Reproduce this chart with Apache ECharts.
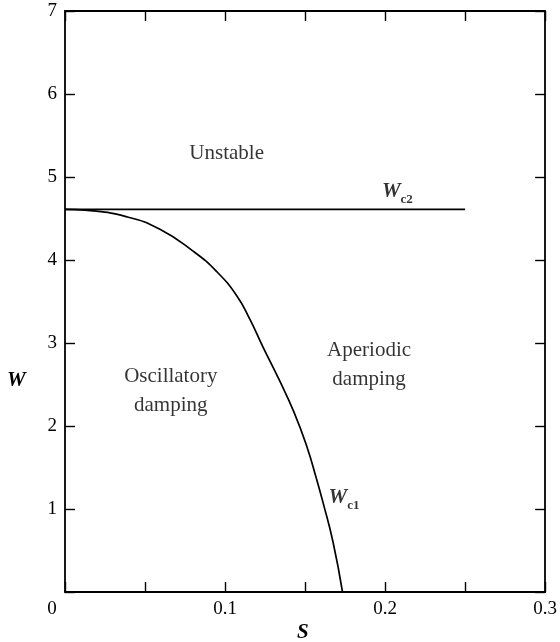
<!DOCTYPE html>
<html>
<head>
<meta charset="utf-8">
<script src="https://cdn.jsdelivr.net/npm/echarts@6/dist/echarts.min.js"></script>
<style>html,body{margin:0;padding:0;background:#fff;}#c{width:560px;height:642px;}</style>
</head>
<body>
<div id="c"></div>
<script>
// Wc2: upper critical value (horizontal)
const wc2S = [0, 0.25];
const wc2W = [4.61, 4.61];
// Wc1: lower boundary curve
const wc1S = [0, 0.0125, 0.0387, 0.0593, 0.0798, 0.0948, 0.1073, 0.1154, 0.1235, 0.1335, 0.1430, 0.1510, 0.1572, 0.1612, 0.1675, 0.1734];
const wc1W = [4.61, 4.60, 4.52, 4.37, 4.11, 3.86, 3.57, 3.29, 2.96, 2.57, 2.17, 1.76, 1.36, 1.08, 0.60, 0.0];
// Region / curve annotations
const annText = ['Unstable', 'Oscillatory\ndamping', 'Aperiodic\ndamping', '{w|W}{s|c2}', '{w|W}{s|c1}'];
const annS = [0.101, 0.0661, 0.190, 0.198, 0.1647];
const annW = [5.28, 2.42, 2.73, 4.83, 1.14];
const annAlign = ['center', 'center', 'center', 'left', 'left'];
const xTickLabels = ['0', '0.1', '0.2', '0.3'];

const serif = 'Liberation Serif';
const chart = echarts.init(document.getElementById('c'));
function axisCommon() {
  return {
    axisLine: {show: true, onZero: false, lineStyle: {color: '#000', width: 1.8}},
    axisTick: {show: true, inside: true, length: 10, lineStyle: {color: '#000', width: 1.4}},
    splitLine: {show: false}
  };
}
const rich = {
  w: {fontFamily: serif, fontStyle: 'italic', fontWeight: 'bold', fontSize: 21, lineHeight: 30, color: '#000'},
  s: {fontFamily: serif, fontWeight: 'bold', fontSize: 13, lineHeight: 14, verticalAlign: 'bottom', color: '#000'}
};
chart.setOption({
  animation: false,
  backgroundColor: '#fff',
  grid: {left: 65, right: 14, top: 11, bottom: 50},
  xAxis: [
    Object.assign(axisCommon(), {
      type: 'value', min: 0, max: 0.3, interval: 0.05, position: 'bottom',
      axisLabel: {
        color: '#000', fontFamily: serif, fontSize: 19, margin: 8,
        formatter: function (v) {
          const k = Math.round(v * 100);
          if (k % 10 !== 0) return '';
          const t = xTickLabels[k / 10];
          return k === 0 ? '{z|' + t + '}' : t;
        },
        rich: {z: {fontFamily: serif, fontSize: 19, color: '#000', padding: [0, 26, 0, 0]}}
      }
    }),
    Object.assign(axisCommon(), {
      type: 'value', min: 0, max: 0.3, interval: 0.05, position: 'top',
      axisLabel: {show: false}
    })
  ],
  yAxis: [
    Object.assign(axisCommon(), {
      type: 'value', min: 0, max: 7, interval: 1, position: 'left',
      axisLabel: {
        color: '#000', fontFamily: serif, fontSize: 19, margin: 8,
        formatter: function (v) { return v === 0 ? '' : String(v); }
      }
    }),
    Object.assign(axisCommon(), {
      type: 'value', min: 0, max: 7, interval: 1, position: 'right',
      axisLabel: {show: false}
    })
  ],
  graphic: [
    {type: 'text', left: 7, top: 370, style: {text: 'W', fontFamily: serif, fontStyle: 'italic', fontWeight: 'bold', fontSize: 21, fill: '#000'}},
    {type: 'text', left: 297, top: 622, style: {text: 'S', fontFamily: serif, fontStyle: 'italic', fontWeight: 'bold', fontSize: 21, fill: '#000'}}
  ],
  series: [
    {
      type: 'line', data: wc2S.map((s, i) => [s, wc2W[i]]), symbol: 'none',
      lineStyle: {color: '#000', width: 1.7}
    },
    {
      type: 'line', data: wc1S.map((s, i) => [s, wc1W[i]]), symbol: 'none', smooth: 0.5,
      lineStyle: {color: '#000', width: 1.7}
    },
    {
      type: 'scatter', symbolSize: 0, silent: true,
      data: annText.map((t, i) => ({
        value: [annS[i], annW[i]],
        label: {
          show: true, position: [0, 0], formatter: t, align: annAlign[i], verticalAlign: 'middle',
          fontFamily: serif, fontSize: 21, lineHeight: 29, color: '#000', rich: rich
        }
      }))
    }
  ]
});
</script>
</body>
</html>
